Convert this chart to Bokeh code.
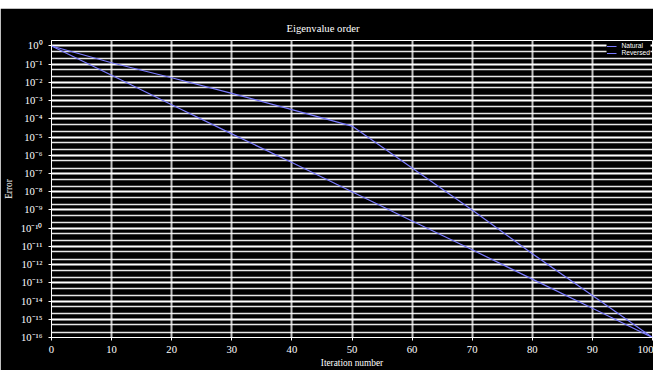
from bokeh.plotting import figure
from bokeh.models import Range1d, FixedTicker, Legend, LegendItem
from bokeh.embed import file_html
from bokeh.resources import INLINE

iterations = [0, 10, 20, 30, 40, 50, 60, 70, 80, 90, 100]
error_a = [1.0, 1.2e-1, 1.8e-2, 2.5e-3, 3.2e-4, 4.0e-5, 2.0e-7, 1.0e-9, 4.0e-12, 2.0e-14, 1.0e-16]
error_b = [1.0, 2.5e-2, 6.0e-4, 1.5e-5, 4.0e-7, 1.0e-8, 2.5e-10, 6.5e-12, 1.6e-13, 4.0e-15, 1.0e-16]
series_names = ["Natural", "Reversed"]
x_ticks = [0, 10, 20, 30, 40, 50, 60, 70, 80, 90, 100]
y_exponents = list(range(0, -17, -1))

sup = str.maketrans("-0123456789", "⁻⁰¹²³⁴⁵⁶⁷⁸⁹")

p = figure(width=653, height=362, output_backend="svg", toolbar_location=None,
           y_axis_type="log", x_range=Range1d(0, 100), y_range=Range1d(1e-16, 2.0),
           title="Eigenvalue order")
p.margin = (8, 0, 0, 0)
p.min_border_left = 38
p.min_border_right = 1
p.min_border_top = 32
p.min_border_bottom = 30
p.background_fill_color = "black"
p.border_fill_color = "black"
p.outline_line_color = "white"

p.title.text_color = "white"
p.title.text_font = "Liberation Serif"
p.title.text_font_size = "8pt"
p.title.text_font_style = "normal"
p.title.align = "left"
p.title.offset = 235
p.title.standoff = 14

r_a = p.line(iterations, error_a, line_color="#7a7aff", line_width=1.2)
r_b = p.line(iterations, error_b, line_color="#7a7aff", line_width=1.2)

p.xaxis.ticker = FixedTicker(ticks=x_ticks)
p.yaxis.ticker = FixedTicker(ticks=[10.0 ** e for e in y_exponents],
                             minor_ticks=[k * 10.0 ** e for e in y_exponents[1:] for k in (2, 5)])
p.yaxis.major_label_overrides = {10.0 ** e: ("10" + str(e).translate(sup)) for e in y_exponents}

for ax in (p.xaxis, p.yaxis):
    ax.axis_line_color = "white"
    ax.major_tick_line_color = "white"
    ax.minor_tick_line_color = None
    ax.major_label_text_color = "white"
    ax.major_label_text_font = "Liberation Serif"
    ax.major_label_text_font_size = "8pt"
    ax.axis_label_text_color = "white"
    ax.axis_label_text_font = "Liberation Serif"
    ax.axis_label_text_font_size = "7pt"
    ax.axis_label_text_font_style = "normal"
    ax.major_tick_out = 3
    ax.major_tick_in = 0

p.xaxis.axis_label = "Iteration number"
p.yaxis.axis_label = "Error"
p.xaxis.axis_label_standoff = 2
p.yaxis.axis_label_standoff = 4

p.xgrid.grid_line_color = "#c0c0c0"
p.xgrid.grid_line_width = 2
p.ygrid.grid_line_color = "white"
p.ygrid.grid_line_width = 2
p.ygrid.minor_grid_line_color = "white"
p.ygrid.minor_grid_line_width = 1.5
p.ygrid.minor_grid_line_alpha = 0.9

legend = Legend(items=[LegendItem(label=series_names[0], renderers=[r_a]),
                       LegendItem(label=series_names[1], renderers=[r_b])],
                location="top_right")
legend.background_fill_color = "black"
legend.background_fill_alpha = 1.0
legend.border_line_color = None
legend.label_text_color = "white"
legend.label_text_font_size = "5pt"
legend.label_height = 6
legend.glyph_height = 6
legend.glyph_width = 10
legend.spacing = 0
legend.padding = 2
legend.margin = 2
p.add_layout(legend, "center")

open("out.html", "w").write(file_html(p, INLINE))
